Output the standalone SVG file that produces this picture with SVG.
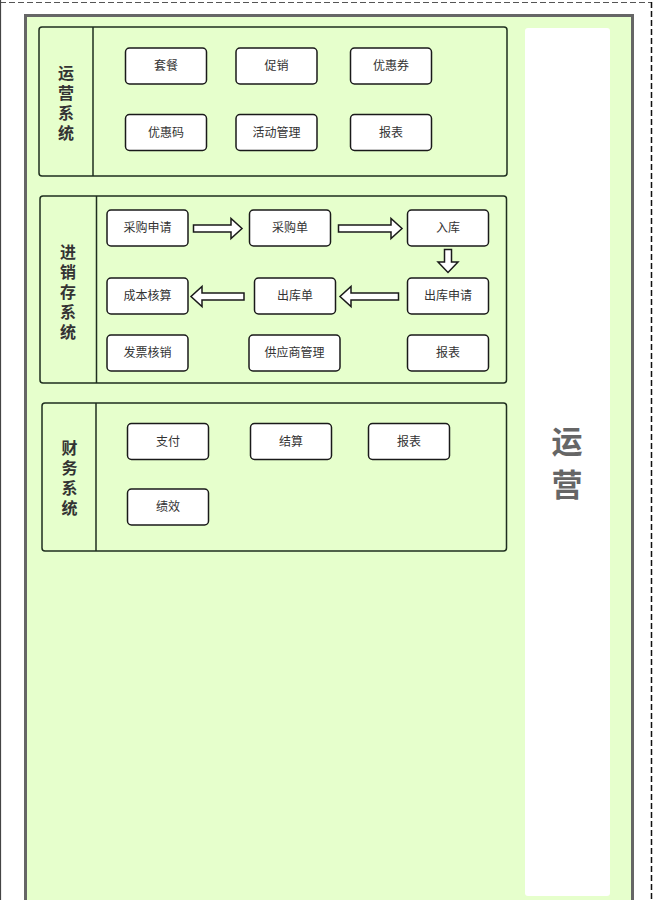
<svg xmlns="http://www.w3.org/2000/svg" width="660" height="900" viewBox="0 0 660 900">
<style>
.pool{fill:#e6ffcc;stroke:#1f2f1f;stroke-width:1.5}
.div{stroke:#1f2f1f;stroke-width:1.5}
.box{fill:#ffffff;stroke:#1a1a1a;stroke-width:1.5}
.t{font-family:"Noto Sans CJK SC","Liberation Sans",sans-serif;font-size:12px;fill:#333;text-anchor:middle}
.pl{font-family:"Noto Sans CJK SC","Liberation Sans",sans-serif;font-size:16px;font-weight:bold;fill:#333;text-anchor:middle;writing-mode:vertical-rl;letter-spacing:4px}
.big{font-family:"Noto Sans CJK SC","Liberation Sans",sans-serif;font-size:31px;font-weight:bold;fill:#666;text-anchor:middle;writing-mode:vertical-rl;letter-spacing:12.5px}
.arr{fill:#ffffff;stroke:#1a1a1a;stroke-width:1.5;stroke-linejoin:miter}
</style>
<rect width="660" height="900" fill="#ffffff"/>
<g id="frame">
<line x1="0" y1="2.5" x2="651" y2="2.5" stroke="#555" stroke-width="1" stroke-dasharray="6 3"/>
<line x1="651.5" y1="2" x2="651.5" y2="900" stroke="#111" stroke-width="1.5" stroke-dasharray="6 3"/>
<line x1="0.5" y1="0" x2="0.5" y2="900" stroke="#444" stroke-width="1.2"/>
</g>
<g id="container">
<rect x="25.5" y="15.5" width="607" height="886" fill="#e6ffcc" stroke="#666" stroke-width="3"/>
<rect x="525" y="28" width="85" height="868" rx="3" fill="#ffffff"/>
<text class="big" x="567" y="469">运营</text>
</g>
<g id="pool-ops">
<rect class="pool" x="39" y="27" width="468" height="149" rx="3"/>
<line class="div" x1="93" y1="27" x2="93" y2="176"/>
<text class="pl" x="66" y="104.5">运营系统</text>
</g>
<g id="n-taocan"><rect class="box" x="125.5" y="48" width="81" height="36" rx="4"/><text class="t" x="166" y="70">套餐</text></g>
<g id="n-cuxiao"><rect class="box" x="236" y="48" width="81" height="36" rx="4"/><text class="t" x="276.5" y="70">促销</text></g>
<g id="n-youhuiquan"><rect class="box" x="350.5" y="48" width="81" height="36" rx="4"/><text class="t" x="391" y="70">优惠券</text></g>
<g id="n-youhuima"><rect class="box" x="125.5" y="114.5" width="81" height="36" rx="4"/><text class="t" x="166" y="136.5">优惠码</text></g>
<g id="n-huodong"><rect class="box" x="236" y="114.5" width="81" height="36" rx="4"/><text class="t" x="276.5" y="136.5">活动管理</text></g>
<g id="n-baobiao1"><rect class="box" x="350.5" y="114.5" width="81" height="36" rx="4"/><text class="t" x="391" y="136.5">报表</text></g>

<g id="pool-psi">
<rect class="pool" x="40" y="196" width="466.5" height="187" rx="3"/>
<line class="div" x1="96.5" y1="196" x2="96.5" y2="383"/>
<text class="pl" x="68" y="293.5">进销存系统</text>
</g>
<g id="n-caigoushenqing"><rect class="box" x="107" y="210" width="81" height="36" rx="4"/><text class="t" x="147.5" y="232">采购申请</text></g>
<g id="n-caigoudan"><rect class="box" x="249.5" y="210" width="81" height="36" rx="4"/><text class="t" x="290" y="232">采购单</text></g>
<g id="n-ruku"><rect class="box" x="407.5" y="210" width="81" height="36" rx="4"/><text class="t" x="448" y="232">入库</text></g>
<g id="n-chengben"><rect class="box" x="107" y="278" width="81" height="36" rx="4"/><text class="t" x="147.5" y="300">成本核算</text></g>
<g id="n-chukudan"><rect class="box" x="254.5" y="278" width="81" height="36" rx="4"/><text class="t" x="295" y="300">出库单</text></g>
<g id="n-chukushenqing"><rect class="box" x="407.5" y="278" width="81" height="36" rx="4"/><text class="t" x="448" y="300">出库申请</text></g>
<g id="n-fapiao"><rect class="box" x="107" y="335" width="81" height="36" rx="4"/><text class="t" x="147.5" y="357">发票核销</text></g>
<g id="n-gongying"><rect class="box" x="249" y="335" width="91" height="36" rx="4"/><text class="t" x="294.5" y="357">供应商管理</text></g>
<g id="n-baobiao2"><rect class="box" x="407.5" y="335" width="81" height="36" rx="4"/><text class="t" x="448" y="357">报表</text></g>

<g id="connectors">
<path class="arr" d="M193.5,225 L231,225 L231,218.5 L242,228.5 L231,238.5 L231,232 L193.5,232 Z"/>
<path class="arr" d="M338.5,225 L391,225 L391,218.5 L402,228.5 L391,238.5 L391,232 L338.5,232 Z"/>
<path class="arr" d="M444.5,249.5 L451.5,249.5 L451.5,262 L458,262 L448,272.5 L438,262 L444.5,262 Z"/>
<path class="arr" d="M398.5,293 L351,293 L351,286.5 L340,296.5 L351,306.5 L351,300 L398.5,300 Z"/>
<path class="arr" d="M244,293 L202,293 L202,286.5 L191,296.5 L202,306.5 L202,300 L244,300 Z"/>
</g>

<g id="pool-fin">
<rect class="pool" x="42" y="403" width="464.5" height="148" rx="3"/>
<line class="div" x1="96" y1="403" x2="96" y2="551"/>
<text class="pl" x="69.5" y="480">财务系统</text>
</g>
<g id="n-zhifu"><rect class="box" x="127.5" y="423.5" width="81" height="36" rx="4"/><text class="t" x="168" y="445.5">支付</text></g>
<g id="n-jiesuan"><rect class="box" x="250.5" y="423.5" width="81" height="36" rx="4"/><text class="t" x="291" y="445.5">结算</text></g>
<g id="n-baobiao3"><rect class="box" x="368.5" y="423.5" width="81" height="36" rx="4"/><text class="t" x="409" y="445.5">报表</text></g>
<g id="n-jixiao"><rect class="box" x="127.5" y="489" width="81" height="36" rx="4"/><text class="t" x="168" y="511">绩效</text></g>
</svg>
